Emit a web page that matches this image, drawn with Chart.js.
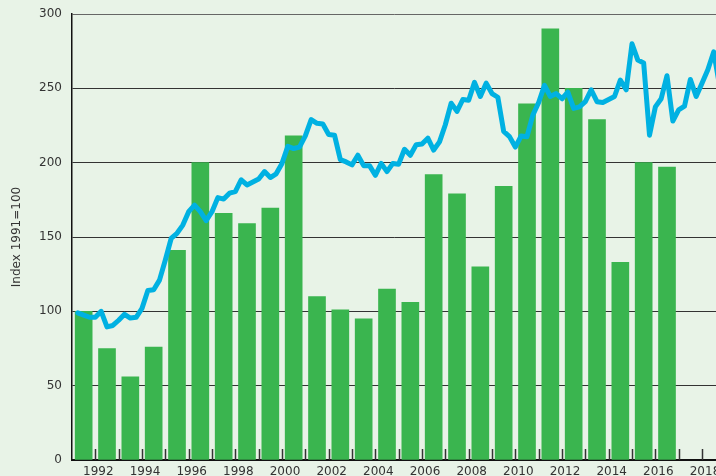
<!DOCTYPE html>
<html>
<head>
<meta charset="utf-8">
<script src="https://cdn.jsdelivr.net/npm/chart.js@4"></script>
<style>
  html, body { margin: 0; padding: 0; background: #e8f3e7; overflow: hidden; }
  #chart { display: block; }
</style>
</head>
<body>
<canvas id="chart" width="716" height="476"></canvas>
<script>
// annual bars, one per year
var barYears = [1991, 1992, 1993, 1994, 1995, 1996, 1997, 1998, 1999, 2000,
                2001, 2002, 2003, 2004, 2005, 2006, 2007, 2008, 2009, 2010,
                2011, 2012, 2013, 2014, 2015, 2016];
var annualIndex = [100, 75, 56, 76, 141, 200, 166, 159, 169.5, 218,
                   110, 101, 95, 115, 106, 192, 179, 130, 184, 239.5,
                   290, 250, 229, 133, 200, 197];

// quarterly line, first point is end of Q1 1991
var lineStart = 1991.25;
var quarterlyIndex = [
    99, 97.5, 96, 96, 100, 89.5, 90.5, 94, 98, 95.5, 96, 102,            // 1991-1993
    114, 114.5, 121, 134.5, 149, 152.5, 158, 167,                        // 1994-1995
    171.5, 167, 161, 167, 176.5, 175.5, 179.5, 180.5,                    // 1996-1997
    188.5, 185, 187, 189, 194, 190, 192.5, 199.5,                        // 1998-1999
    211, 209.5, 210.5, 218, 229, 226.5, 226, 219,                        // 2000-2001
    218.5, 202, 200.5, 198.5, 205, 198, 198, 191.5,                      // 2002-2003
    199.5, 194, 199.5, 199, 209, 205, 212, 212.5,                        // 2004-2005
    216.5, 208.5, 214, 225.5, 240, 234.5, 242.5, 242,                    // 2006-2007
    254, 244.5, 253.5, 246.5, 244, 221, 217.5, 210.5,                    // 2008-2009
    218, 217.5, 232, 240.5, 252, 244.5, 246.5, 243,                      // 2010-2011
    247.5, 236.5, 237.5, 241, 249, 241, 240.5, 242.5,                    // 2012-2013
    244.5, 255.5, 249, 280, 269, 267, 218.5, 237.5,                      // 2014-2015
    243, 258.5, 228, 235.5, 238, 256, 244.5, 253.5,                      // 2016-2017
    262.5, 274.5, 252                                                    // 2018
];

var yTicks = [0, 50, 100, 150, 200, 250, 300];
var xTickYears = [1991, 1992, 1993, 1994, 1995, 1996, 1997, 1998, 1999, 2000,
                  2001, 2002, 2003, 2004, 2005, 2006, 2007, 2008, 2009, 2010,
                  2011, 2012, 2013, 2014, 2015, 2016, 2017, 2018];

var barColor = '#3ab54f';
var lineColor = '#00b1e2';
var textColor = '#333333';

var barData = [];
for (let i = 0; i < barYears.length; i++) {
    barData.push({ x: barYears[i] + 0.5, y: annualIndex[i] });
}
var lineData = [];
for (let i = 0; i < quarterlyIndex.length; i++) {
    lineData.push({ x: lineStart + i * 0.25, y: quarterlyIndex[i] });
}

// small tick marks pointing up into the plot, one per year
var innerTicks = {
    id: 'innerTicks',
    afterDatasetsDraw: function (chart) {
        var ctx = chart.ctx;
        var xs = chart.scales.x;
        var bottom = chart.chartArea.bottom;
        ctx.save();
        ctx.strokeStyle = '#333';
        ctx.lineWidth = 1.5;
        xTickYears.forEach(function (yr) {
            if (yr === xTickYears[0]) return;
            var px = Math.round(xs.getPixelForValue(yr)) + 0.5;
            ctx.beginPath();
            ctx.moveTo(px, bottom - 11);
            ctx.lineTo(px, bottom);
            ctx.stroke();
        });
        ctx.restore();
    }
};

new Chart(document.getElementById('chart'), {
    type: 'bar',
    data: {
        datasets: [
            {
                type: 'line',
                data: lineData,
                borderColor: lineColor,
                borderWidth: 5,
                pointRadius: 0,
                tension: 0,
                borderJoinStyle: 'round',
                borderCapStyle: 'round',
                order: 0
            },
            {
                data: barData,
                backgroundColor: barColor,
                barThickness: 17,
                order: 1
            }
        ]
    },
    options: {
        responsive: false,
        animation: false,
        layout: { padding: { top: 14, right: 0, left: 0, bottom: 0 } },
        plugins: {
            legend: { display: false },
            tooltip: { enabled: false }
        },
        scales: {
            x: {
                type: 'linear',
                min: 1991,
                max: 2018.6,
                offset: false,
                afterBuildTicks: function (s) {
                    s.ticks = xTickYears.map(function (v) { return { value: v }; });
                },
                grid: { display: false, drawTicks: false },
                border: { display: true, color: '#111', width: 2 },
                ticks: {
                    autoSkip: false,
                    maxRotation: 0,
                    padding: 5,
                    labelOffset: 3,
                    color: textColor,
                    font: { family: 'DejaVu Sans', size: 12 },
                    callback: function (v) {
                        return v % 2 === 0 ? String(v) : '';
                    }
                },
                afterFit: function (s) { s.height = 16; s.paddingLeft = 0; s.paddingRight = 0; }
            },
            y: {
                min: 0,
                max: 300,
                afterBuildTicks: function (s) {
                    s.ticks = yTicks.map(function (v) { return { value: v }; });
                },
                grid: {
                    color: function (c) { return c.tick && c.tick.value === 300 ? '#666' : '#333'; },
                    lineWidth: 1,
                    drawTicks: false
                },
                border: { display: true, color: '#111', width: 1.5 },
                ticks: {
                    padding: 10,
                    color: textColor,
                    font: { family: 'DejaVu Sans', size: 12 }
                },
                title: {
                    display: true,
                    text: 'Index 1991=100',
                    color: textColor,
                    font: { family: 'DejaVu Sans', size: 12 },
                    padding: { top: 10, bottom: 0 }
                },
                afterFit: function (s) { s.width = 72; s.paddingTop = 0; s.paddingBottom = 0; }
            }
        }
    },
    plugins: [innerTicks]
});
</script>
</body>
</html>
